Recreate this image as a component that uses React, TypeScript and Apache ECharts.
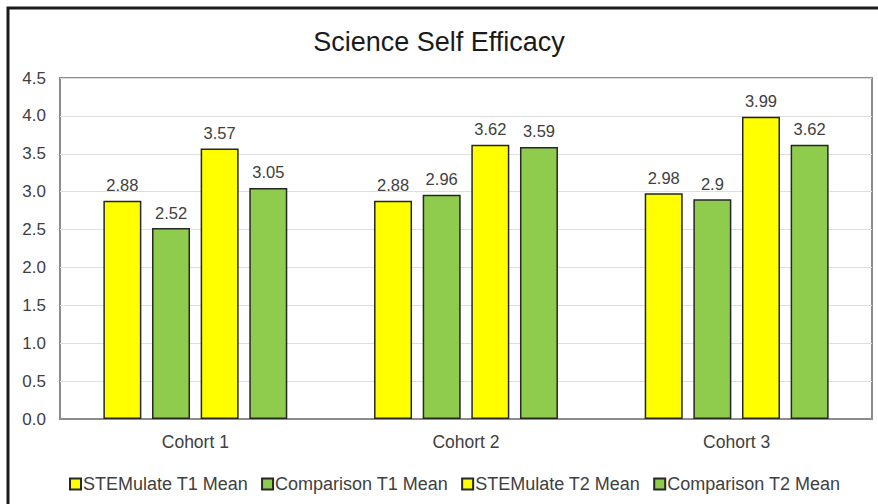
import React, { useEffect, useRef } from "react";
import * as echarts from "echarts";

const categories = ["Cohort 1", "Cohort 2", "Cohort 3"];
const stemT1 = [2.88, 2.88, 2.98];
const compT1 = [2.52, 2.96, 2.9];
const stemT2 = [3.57, 3.62, 3.99];
const compT2 = [3.05, 3.59, 3.62];
const seriesNames = ["STEMulate T1 Mean", "Comparison T1 Mean", "STEMulate T2 Mean", "Comparison T2 Mean"];
const yTicks = [0, 0.5, 1, 1.5, 2, 2.5, 3, 3.5, 4, 4.5];

const FONT = "'Liberation Sans', Arial, sans-serif";
const YELLOW = "#FFFF00";
const GREEN = "#8FCC4E";

export default function App() {
  const ref = useRef<HTMLDivElement>(null);
  useEffect(() => {
    document.body.style.margin = "0";
    const chart = echarts.init(ref.current!, undefined, { renderer: "svg" });
    const dataSets = [stemT1, compT1, stemT2, compT2];
    const colors = [YELLOW, GREEN, YELLOW, GREEN];
    chart.setOption({
      animation: false,
      backgroundColor: "#ffffff",
      textStyle: { fontFamily: FONT },
      title: {
        text: "Science Self Efficacy",
        left: "center",
        top: 23,
        textStyle: { fontFamily: FONT, fontSize: 27, fontWeight: "normal", color: "#1a1a1a" },
      },
      graphic: [
        {
          type: "rect",
          shape: { x: 8, y: 8, width: 900, height: 600 },
          style: { fill: "none", stroke: "#1a1a1a", lineWidth: 3 },
          silent: true,
        },
      ],
      legend: {
        data: seriesNames,
        left: 64,
        top: 470,
        itemWidth: 11,
        itemHeight: 11,
        itemGap: 13,
        icon: "rect",
        textStyle: { fontFamily: FONT, fontSize: 18, color: "#404040", padding: [0, 0, 0, -3] },
      },
      grid: {
        left: 60,
        right: 6,
        top: 78,
        bottom: 85,
        show: true,
        borderColor: "#8c8c8c",
        borderWidth: 2,
        containLabel: false,
      },
      xAxis: {
        type: "category",
        data: categories,
        axisTick: { show: false },
        axisLine: { show: true, lineStyle: { color: "#8c8c8c", width: 2 } },
        axisLabel: { margin: 14, fontFamily: FONT, fontSize: 17.5, color: "#404040" },
      },
      yAxis: {
        type: "value",
        min: yTicks[0],
        max: yTicks[yTicks.length - 1],
        interval: 0.5,
        axisLine: { show: false },
        axisTick: { show: false },
        splitLine: { lineStyle: { color: "#dedede", width: 1 } },
        axisLabel: {
          margin: 14,
          fontFamily: FONT,
          fontSize: 17,
          color: "#404040",
          formatter: (v: number) => v.toFixed(1),
        },
      },
      series: seriesNames.map((name, i) => ({
        name,
        type: "bar",
        data: dataSets[i],
        barWidth: 38,
        barGap: "28%",
        itemStyle: { color: colors[i], borderColor: "#262626", borderWidth: 1.5 },
        label: {
          show: true,
          position: "top",
          distance: 7,
          fontFamily: FONT,
          fontSize: 16.5,
          color: "#404040",
          formatter: (p: any) => String(p.value),
        },
      })),
    });
    return () => chart.dispose();
  }, []);
  return <div ref={ref} style={{ width: 878, height: 504 }} />;
}
